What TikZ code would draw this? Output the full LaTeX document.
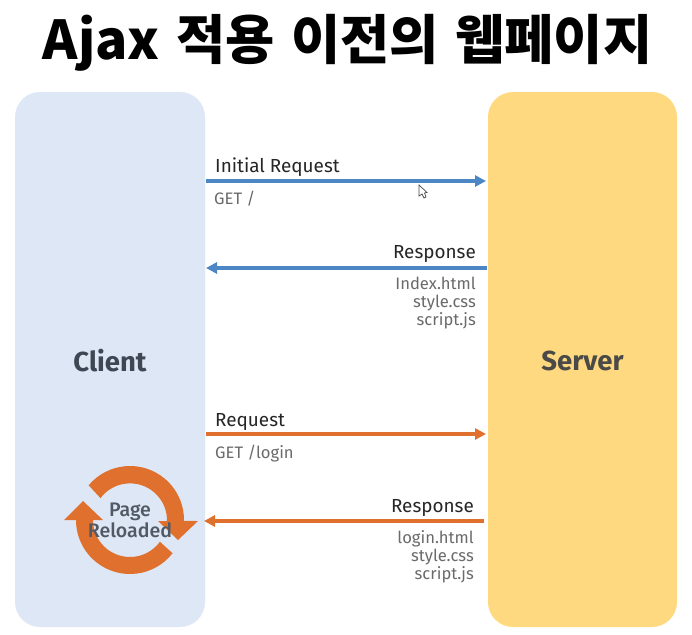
\documentclass[tikz,border=0pt]{standalone}
\usepackage{fontspec}
\setmainfont{Fira Sans}
\newfontfamily\krfont{Noto Sans CJK KR Black}
\newfontfamily\medfont{Fira Sans Medium}
\definecolor{clientfill}{HTML}{DDE7F5}
\definecolor{serverfill}{HTML}{FFD97F}
\definecolor{blueline}{HTML}{4C86C4}
\definecolor{orangeline}{HTML}{E0702D}
\definecolor{darktext}{HTML}{3E4753}
\definecolor{servertext}{HTML}{4A4A48}
\definecolor{greytext}{HTML}{6A6A6A}
\usetikzlibrary{arrows.meta}
\tikzset{
  panel/.style={rounded corners=25pt,minimum width=#1,minimum height=535pt,inner sep=0pt,outer sep=0pt},
  paneltext/.style={font=\fontsize{27.5}{30}\selectfont\bfseries,inner sep=0pt},
  msg/.style={line width=3.2pt,-{Triangle[length=11pt,width=11pt]}},
  msglabel/.style={font=\fontsize{18.9}{21}\selectfont,text=black!85,inner sep=0pt},
  msgnote/.style={font=\fontsize{16.6}{18}\selectfont,text=greytext,inner sep=0pt,align=right},
  cyc/.style={fill=orangeline,draw=none},
}
\begin{document}
\begin{tikzpicture}[x=1pt,y=-1pt]
\useasboundingbox (0,0) rectangle (692,634);
\fill[white] (0,0) rectangle (692,634);
\node[anchor=center,inner sep=0pt,font=\krfont\fontsize{53.5}{56}\selectfont] (title) at (347.5,43) {Ajax\hspace{.08em} 적용\hspace{.08em} 이전의\hspace{.08em} 웹페이지};
\node[panel=190pt,fill=clientfill] (client) at (110,359.5) {};
\node[panel=189pt,fill=serverfill] (server) at (582.5,359.5) {};
\node[paneltext,text=darktext] (clientlabel) at (110,361) {Client};
\node[paneltext,text=servertext] (serverlabel) at (582.5,361) {Server};
% arrow end points
\coordinate (c1) at (206,181); \coordinate (s1) at (486,181);
\coordinate (c2) at (206,268); \coordinate (s2) at (487,268);
\coordinate (c3) at (206,434); \coordinate (s3) at (486,434);
\coordinate (c4) at (204,521); \coordinate (s4) at (484,521);
\draw[msg,blueline] (c1) -- (s1);
\draw[msg,blueline] (s2) -- (c2);
\draw[msg,orangeline] (c3) -- (s3);
\draw[msg,orangeline] (s4) -- (c4);
\node[msglabel,anchor=base west] (l1) at (215,172) {Initial Request};
\node[msgnote,anchor=base west] (n1) at (214,204) {GET /};
\node[msglabel,anchor=base east] (l2) at (476,258) {Response};
\node[msgnote,anchor=north east] (n2) at (476,277) {Index.html\\style.css\\script.js};
\node[msglabel,anchor=base west] (l3) at (215,426) {Request};
\node[msgnote,anchor=base west] (n3) at (215,458) {GET /login};
\node[msglabel,anchor=base east] (l4) at (474,512) {Response};
\node[msgnote,anchor=north east] (n4) at (474,530) {login.html\\style.css\\script.js};
% reload cycle
\begin{scope}[shift={(130,520)},x=1pt,y=1pt]
\fill[cyc] (140:54) arc[start angle=140,end angle=-1,radius=54] -- (68,-1) -- (48,-20) -- (28,-1) -- (37,-1) arc[start angle=-1,end angle=143,radius=37] -- cycle;
\fill[cyc] (-38:54) arc[start angle=-38,end angle=-180,radius=54] -- (-66,0) -- (-47,19) -- (-27,0) -- (-37,0) arc[start angle=-180,end angle=-36,radius=37] -- cycle;
\end{scope}
\node[inner sep=0pt,align=center,font=\medfont\fontsize{19.6}{21}\selectfont,text=darktext!90] (page) at (130,520) {Page\\Reloaded};
% cursor
\draw[black!70,fill=white,line width=.7pt] (419,185) -- (419,196) -- (422,194) -- (424,198) -- (426,197) -- (424.5,193) -- (427,192.5) -- cycle;
\end{tikzpicture}
\end{document}
